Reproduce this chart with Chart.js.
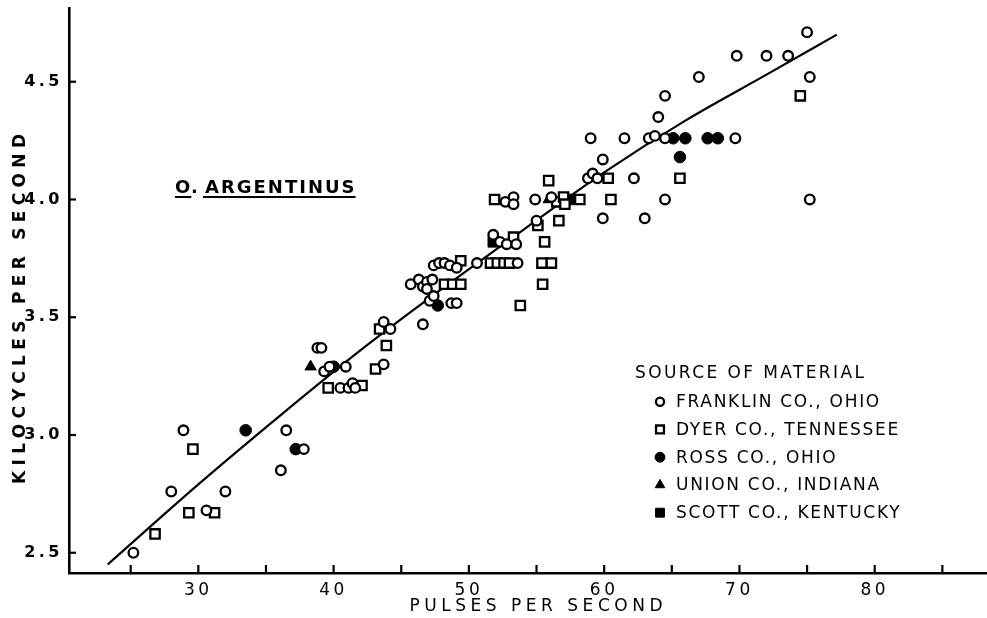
<!DOCTYPE html>
<html><head><meta charset="utf-8">
<script src="https://cdn.jsdelivr.net/npm/chart.js@4.4.1/dist/chart.umd.min.js"></script>
<style>html,body{margin:0;padding:0;background:#fff;}#wrap{width:987px;height:618px;}</style>
</head><body><div id="wrap"><canvas id="c" width="987" height="618"></canvas></div>
<script>
// ---- data ----
const seriesNames = ["FRANKLIN CO., OHIO", "DYER CO., TENNESSEE", "ROSS CO., OHIO", "UNION CO., INDIANA", "SCOTT CO., KENTUCKY"];
const franklinX = [25.2,28.0,28.9,30.6,32.0,36.1,36.5,37.8,38.8,39.1,39.3,39.7,40.9,40.5,41.1,41.4,41.6,43.7,44.2,43.7,45.7,46.3,46.6,46.9,47.3,46.9,46.6,47.1,47.4,48.7,49.1,47.4,47.8,48.2,48.6,49.1,50.6,51.8,52.3,52.8,53.5,53.6,52.7,53.3,53.3,54.9,55.0,56.1,58.8,59.15,59.5,59.9,59.9,59.0,61.5,62.2,63.0,63.3,63.75,64.0,64.5,64.5,64.5,67.0,69.7,69.8,72.0,73.6,75.0,75.2,75.2];
const franklinY = [2.50,2.76,3.02,2.68,2.76,2.85,3.02,2.94,3.37,3.37,3.27,3.29,3.29,3.20,3.20,3.22,3.20,3.48,3.45,3.30,3.64,3.66,3.63,3.65,3.66,3.62,3.47,3.57,3.59,3.56,3.56,3.72,3.73,3.73,3.72,3.71,3.73,3.85,3.82,3.81,3.81,3.73,3.99,4.01,3.98,4.00,3.91,4.01,4.09,4.11,4.09,4.17,3.92,4.26,4.26,4.09,3.92,4.26,4.27,4.35,4.26,4.44,4.00,4.52,4.26,4.61,4.61,4.61,4.71,4.52,4.00];
const dyerX = [26.8,29.3,29.6,31.2,39.6,42.1,43.1,43.4,43.9,48.2,48.8,49.4,49.4,51.6,52.1,52.6,53.0,55.4,56.1,55.45,53.8,55.6,53.3,51.9,55.9,56.5,57.0,57.1,58.2,55.1,56.65,60.3,60.5,65.6,74.5];
const dyerY = [2.58,2.67,2.94,2.67,3.20,3.21,3.28,3.45,3.38,3.64,3.64,3.64,3.74,3.73,3.73,3.73,3.73,3.73,3.73,3.64,3.55,3.82,3.84,4.00,4.08,3.99,4.01,3.98,4.00,3.89,3.91,4.09,4.00,4.09,4.44];
const rossX = [33.5,37.2,40.0,47.7,65.1,66.0,67.65,68.4,65.6];
const rossY = [3.02,2.94,3.29,3.55,4.26,4.26,4.26,4.26,4.18];
const unionX = [38.3,55.9];
const unionY = [3.29,4.00];
const scottX = [51.8,57.4];
const scottY = [3.82,4.00];
const curveX = [23.3,30,36,42,48,54,60,66,72,77.2];
const curveY = [2.45,2.79,3.08,3.36,3.62,3.87,4.115,4.335,4.53,4.70];
const xTickValues = [25,30,35,40,45,50,55,60,65,70,75,80,85];
const xLabelValues = [30,40,50,60,70,80];
const yTickValues = [2.5,3.0,3.5,4.0,4.5];
const xTitle = "PULSES PER SECOND";
const yTitle = "KILOCYCLES PER SECOND";
const legendTitle = "SOURCE OF MATERIAL";
const speciesLabel = ["O.", "ARGENTINUS"];

const pts = (xs, ys) => xs.map((x, i) => ({x, y: ys[i]}));
const FONT = "'DejaVu Sans', sans-serif";

const styles = [
  {pointStyle:'circle', radius:4.8, backgroundColor:'#fff', borderColor:'#000', borderWidth:2.3},
  {pointStyle:'rect', radius:6.6, backgroundColor:'#fff', borderColor:'#000', borderWidth:2.3},
  {pointStyle:'circle', radius:5.8, backgroundColor:'#000', borderColor:'#000', borderWidth:1},
  {pointStyle:'triangle', radius:6.5, backgroundColor:'#000', borderColor:'#000', borderWidth:1},
  {pointStyle:'rect', radius:7.4, backgroundColor:'#000', borderColor:'#000', borderWidth:1}
];
const seriesData = [pts(franklinX, franklinY), pts(dyerX, dyerY), pts(rossX, rossY), pts(unionX, unionY), pts(scottX, scottY)];

const datasets = seriesData.map((d, i) => ({
  label: seriesNames[i], data: d,
  pointStyle: styles[i].pointStyle, pointRadius: styles[i].radius,
  pointBackgroundColor: styles[i].backgroundColor, pointBorderColor: styles[i].borderColor,
  pointBorderWidth: styles[i].borderWidth, showLine: false, clip: false
}));
datasets.push({label:'fit', data: pts(curveX, curveY), showLine: true, pointRadius: 0,
  borderColor:'#000', borderWidth: 2.2, tension: 0.4, cubicInterpolationMode: 'monotone', fill: false});

// draw text stretched to a target span using letter spacing
function spacedText(ctx, text, cx, cy, span) {
  ctx.letterSpacing = '0px';
  const w = ctx.measureText(text).width;
  const sp = Math.max(0, (span - w) / (text.length - 1));
  ctx.letterSpacing = sp + 'px';
  ctx.textAlign = 'left';
  ctx.fillText(text, cx - span / 2, cy);
}

const decor = {
  id: 'decor',
  beforeDraw(chart) { chart.ctx.letterSpacing = '3.5px'; },
  beforeDatasetsDraw(chart) { chart.ctx.letterSpacing = '0px'; },
  afterDraw(chart) {
    const ctx = chart.ctx, xs = chart.scales.x, ys = chart.scales.y;
    const ca = chart.chartArea;
    ctx.save();
    ctx.strokeStyle = '#000'; ctx.lineWidth = 2.2; ctx.lineCap = 'butt';
    xTickValues.forEach(v => { const p = xs.getPixelForValue(v); ctx.beginPath(); ctx.moveTo(p, ca.bottom); ctx.lineTo(p, ca.bottom - 8); ctx.stroke(); });
    yTickValues.forEach(v => { const p = ys.getPixelForValue(v); ctx.beginPath(); ctx.moveTo(ca.left, p); ctx.lineTo(ca.left + 7, p); ctx.stroke(); });
    ctx.fillStyle = '#000';
    // axis titles
    ctx.textBaseline = 'middle';
    ctx.font = '17px ' + FONT;
    spacedText(ctx, xTitle, 536, 607, 253);
    ctx.save();
    ctx.translate(21, 309); ctx.rotate(-Math.PI / 2);
    ctx.font = 'bold 17px ' + FONT;
    spacedText(ctx, yTitle, 0, 0, 350);
    ctx.restore();
    // species label
    ctx.font = 'bold 18px ' + FONT; ctx.textBaseline = 'alphabetic'; ctx.textAlign = 'left';
    ctx.letterSpacing = '1px';
    const bx = 175, by = 193;
    ctx.fillText(speciesLabel[0], bx, by);
    const w0 = ctx.measureText('O').width;
    ctx.letterSpacing = '2px';
    const ax = 205;
    ctx.fillText(speciesLabel[1], ax, by);
    const w1 = ctx.measureText(speciesLabel[1]).width;
    ctx.lineWidth = 2;
    ctx.beginPath(); ctx.moveTo(bx, by + 4); ctx.lineTo(bx + w0, by + 4); ctx.stroke();
    ctx.beginPath(); ctx.moveTo(ax - 2, by + 4); ctx.lineTo(ax + w1 - 1, by + 4); ctx.stroke();
    // legend
    ctx.font = '17px ' + FONT; ctx.letterSpacing = '2.4px'; ctx.textBaseline = 'middle';
    ctx.fillText(legendTitle, 635, 374);
    ctx.letterSpacing = '1.7px';
    seriesNames.forEach((n, i) => {
      const y = 401.7 + i * 27.75;
      const s = styles[i];
      ctx.fillStyle = s.backgroundColor; ctx.strokeStyle = s.borderColor; ctx.lineWidth = s.borderWidth;
      Chart.helpers.drawPoint(ctx, {pointStyle: s.pointStyle, radius: s.radius * 0.85, rotation: 0, borderWidth: s.borderWidth}, 660, y);
      ctx.fillStyle = '#000';
      ctx.fillText(n, 676, y + 1);
    });
    ctx.restore();
  }
};

new Chart(document.getElementById('c'), {
  type: 'scatter',
  data: {datasets},
  options: {
    responsive: false, animation: false, devicePixelRatio: 1,
    layout: {autoPadding: false, padding: {top: 8, right: 0, bottom: 0, left: 0}},
    plugins: {legend: {display: false}, tooltip: {enabled: false}},
    scales: {
      x: {
        type: 'linear', min: 20.44, max: 88.3,
        afterFit: s => { s.height = 45; s.paddingLeft = 0; s.paddingRight = 0; },
        afterBuildTicks: s => { s.ticks = xTickValues.map(v => ({value: v})); },
        grid: {display: false, drawTicks: false},
        border: {display: true, color: '#000', width: 2.6},
        ticks: {color: '#000', padding: 7, maxRotation: 0, autoSkip: false,
          font: {family: FONT, size: 17},
          callback: v => xLabelValues.includes(v) ? String(v) : ''},
        title: {display: false, text: xTitle}
      },
      y: {
        type: 'linear', min: 2.414, max: 4.813,
        afterFit: s => { s.width = 69; s.paddingTop = 0; s.paddingBottom = 0; },
        afterBuildTicks: s => { s.ticks = yTickValues.map(v => ({value: v})); },
        grid: {display: false, drawTicks: false},
        border: {display: true, color: '#000', width: 2.6},
        ticks: {color: '#000', padding: 6, font: {family: FONT, size: 16, weight: 'bold'},
          callback: v => v.toFixed(1)},
        title: {display: false, text: yTitle}
      }
    }
  },
  plugins: [decor]
});
</script></body></html>
